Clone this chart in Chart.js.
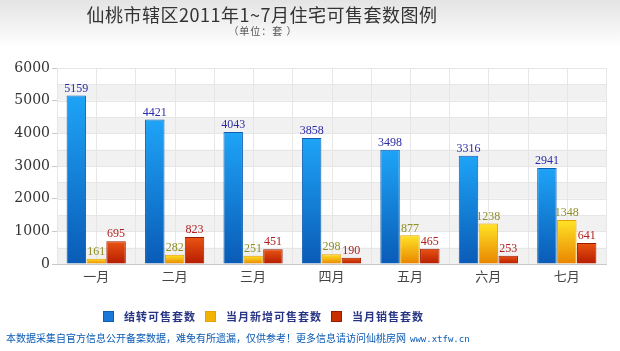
<!DOCTYPE html>
<html>
<head>
<meta charset="utf-8">
<script src="https://cdn.jsdelivr.net/npm/chart.js@4"></script>
<style>
  html, body { margin: 0; padding: 0; background: #fff; }
  #wrap { position: relative; width: 620px; height: 351px; overflow: hidden;
          background: linear-gradient(#e4e4e4 0px, #ffffff 48px, #ffffff 100%); }
  #title { position: absolute; left: 0; width: 524px; top: 1px; text-align: center; line-height: 26px;
           font: 18px "Noto Sans CJK SC", sans-serif; color: #333; letter-spacing: 0.5px; }
  #sub { position: absolute; left: 0; width: 526px; top: 23px; text-align: center; line-height: 14px;
         font: 10px "Noto Sans CJK SC", sans-serif; color: #555; letter-spacing: 1px; }
  #legend { position: absolute; top: 308px; left: 103px; font: bold 11px "Noto Sans CJK SC", sans-serif;
            color: #283585; letter-spacing: 1px; white-space: nowrap; }
  #legend span.item { margin-right: 9px; }
  #legend i { display: inline-block; width: 9px; height: 9px; margin-right: 10px; vertical-align: -1px; }
  #foot { position: absolute; top: 330px; left: 6px; font: 10px "Noto Sans CJK SC", sans-serif;
          color: #0a5ab4; white-space: nowrap; }
  #foot small { font: 9px "DejaVu Sans Mono", monospace; margin-left: 4px; }
  canvas { position: absolute; left: 0; top: 0; }
</style>
</head>
<body>
<div id="wrap">
  <canvas id="myChart" width="620" height="351"></canvas>
  <div id="title">仙桃市辖区2011年1~7月住宅可售套数图例</div>
  <div id="sub">（单位：套 ）</div>
  <div id="legend"></div>
  <div id="foot">本数据采集自官方信息公开备案数据，难免有所遗漏，仅供参考！更多信息请访问仙桃房网<small>www.xtfw.cn</small></div>
</div>
<script>
// months
const months = ['一月', '二月', '三月', '四月', '五月', '六月', '七月'];
// series values
const carryOver = [5159, 4421, 4043, 3858, 3498, 3316, 2941];
const newSupply = [161, 282, 251, 298, 877, 1238, 1348];
const sold = [695, 823, 451, 190, 465, 253, 641];
const seriesNames = ['结转可售套数', '当月新增可售套数', '当月销售套数'];
const yTicks = [0, 1000, 2000, 3000, 4000, 5000, 6000];

// colours: [top, bottom, border, label, legend]
const palettes = [
    ['#1ea4f7', '#0a5bb6', '#0f5fb0', '#2b2ba8', '#1a78d8'],
    ['#ffe426', '#e88400', '#eaa000', '#8e8e22', '#f2b400'],
    ['#ea5412', '#b51c00', '#9c1a00', '#b01c1c', '#c83000']
];

function barGradient(idx) {
    return function (ctx) {
        const chart = ctx.chart;
        const ys = chart.scales.y;
        if (!ys || !chart.chartArea) return palettes[idx][0];
        const top = ys.getPixelForValue(ctx.raw);
        const bottom = ys.getPixelForValue(0);
        const g = chart.ctx.createLinearGradient(0, top, 0, bottom + 0.01);
        g.addColorStop(0, palettes[idx][0]);
        g.addColorStop(1, palettes[idx][1]);
        return g;
    };
}

// striped background and vertical grid
const backdrop = {
    id: 'backdrop',
    beforeDatasetsDraw(chart) {
        const c = chart.ctx, a = chart.chartArea, x = chart.scales.x, y = chart.scales.y;
        c.save();
        for (let v = 0; v < 6000; v += 1000) {
            const y1 = y.getPixelForValue(v + 500), y0 = y.getPixelForValue(v);
            c.fillStyle = '#f1f1f1';
            c.fillRect(a.left, y1, a.right - a.left, y0 - y1);
        }
        c.strokeStyle = '#e6e6e6';
        c.lineWidth = 1;
        for (let v = 500; v <= 6000; v += 500) {
            const py = Math.round(y.getPixelForValue(v)) + 0.5;
            c.beginPath(); c.moveTo(a.left, py); c.lineTo(a.right, py); c.stroke();
        }
        const half = (x.getPixelForValue(1) - x.getPixelForValue(0)) / 2;
        for (let i = 0; i < months.length; i++) {
            const cx = x.getPixelForValue(i);
            [cx - half, cx, cx + half].forEach(px => {
                px = Math.round(px) + 0.5;
                c.beginPath(); c.moveTo(px, a.top); c.lineTo(px, a.bottom); c.stroke();
            });
        }
        c.restore();
    }
};

// value labels above bars
const valueLabels = {
    id: 'valueLabels',
    afterDatasetsDraw(chart) {
        const c = chart.ctx;
        c.save();
        c.font = '12px "Liberation Serif", serif';
        c.textAlign = 'center';
        c.textBaseline = 'bottom';
        chart.data.datasets.forEach((ds, di) => {
            const meta = chart.getDatasetMeta(di);
            c.fillStyle = palettes[di][3];
            meta.data.forEach((bar, i) => {
                c.fillText(ds.data[i], bar.x, bar.y - 1);
            });
        });
        c.restore();
    }
};

const seriesData = [carryOver, newSupply, sold];

document.getElementById('legend').innerHTML = seriesNames.map((n, i) =>
    '<span class="item"><i style="background:' + palettes[i][4] + ';border:1px solid ' + palettes[i][2] + '"></i>' + n + '</span>'
).join('');

const ctx = document.getElementById('myChart').getContext('2d');
const myChart = new Chart(ctx, {
    type: 'bar',
    data: {
        labels: months,
        datasets: seriesData.map((d, i) => ({
            label: seriesNames[i],
            data: d,
            backgroundColor: barGradient(i),
            borderColor: palettes[i][2],
            borderWidth: 1,
            borderSkipped: 'bottom',
            categoryPercentage: 0.76,
            barPercentage: 0.98
        }))
    },
    plugins: [backdrop, valueLabels],
    options: {
        responsive: false,
        animation: false,
        layout: { padding: { left: 0, right: 14, top: 68, bottom: 0 } },
        plugins: {
            legend: { display: false },
            title: { display: false },
            tooltip: { enabled: false }
        },
        scales: {
            x: {
                afterFit: function (scale) { scale.height = 87; },
                grid: { display: false, drawOnChartArea: false, drawTicks: false },
                border: { display: true, color: '#c8c8c8' },
                ticks: {
                    color: '#444',
                    padding: 4,
                    font: { family: '"Noto Sans CJK SC", sans-serif', size: 13 }
                }
            },
            y: {
                min: 0,
                max: 6000,
                afterFit: function (scale) { scale.width = 57; },
                afterBuildTicks: function (scale) { scale.ticks = yTicks.map(v => ({ value: v })); },
                grid: { drawOnChartArea: false, drawTicks: true, tickLength: 5, color: '#c8c8c8' },
                border: { display: true, color: '#c8c8c8' },
                ticks: {
                    color: '#333',
                    padding: 2,
                    callback: function (v) { return String(v); },
                    font: { family: '"DejaVu Serif", serif', size: 14 }
                }
            }
        }
    }
});
</script>
</body>
</html>
